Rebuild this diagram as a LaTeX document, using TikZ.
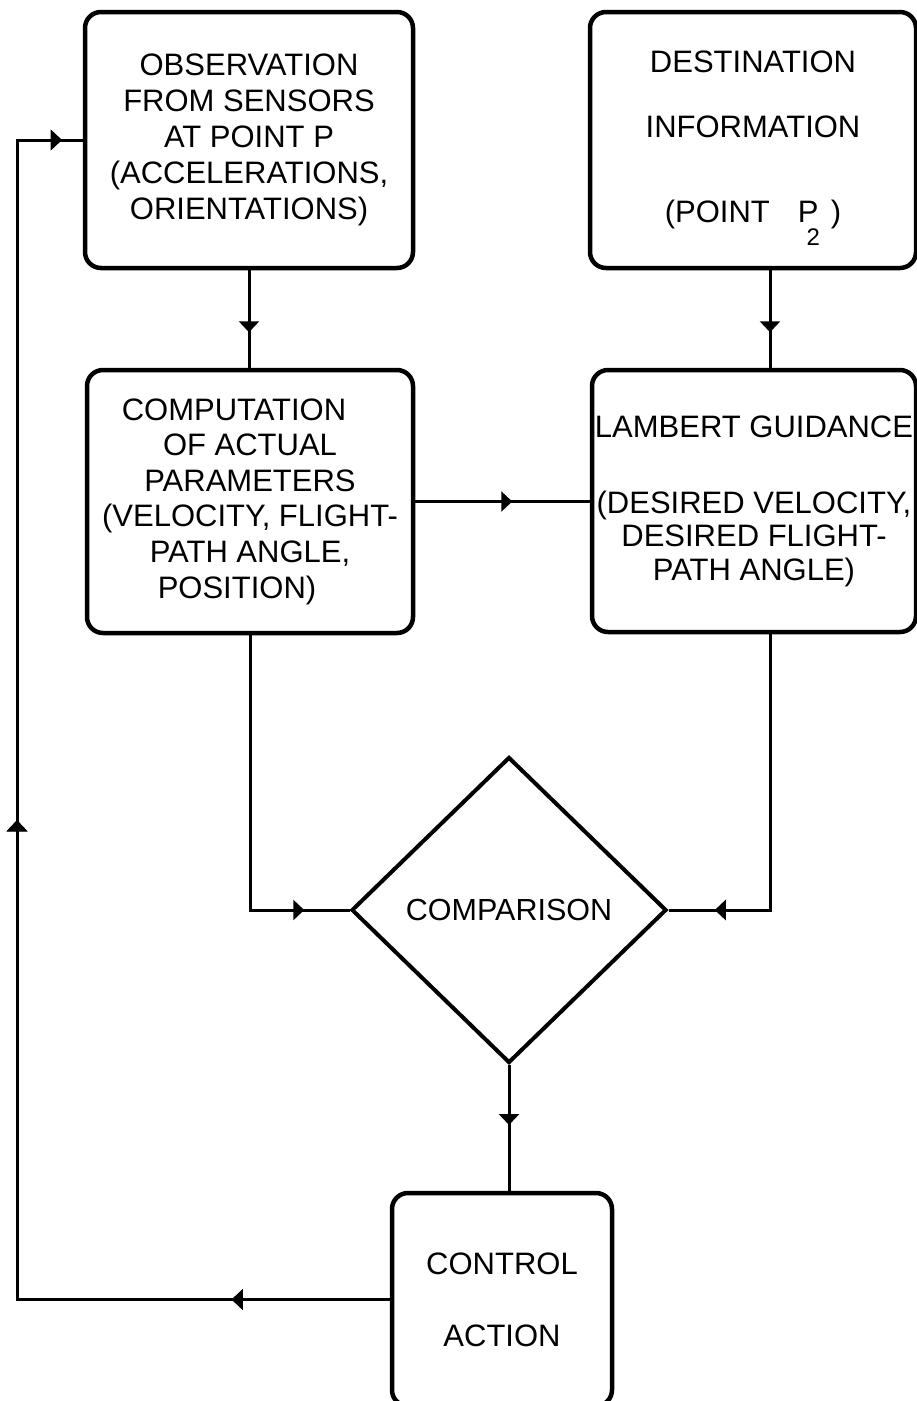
\documentclass[tikz,border=0pt]{standalone}
\usepackage{fontspec}
\setmainfont{Liberation Sans}
\usetikzlibrary{arrows.meta,shapes.geometric,decorations.markings,calc}
\begin{document}
\begin{tikzpicture}[x=1pt,y=-1pt,
  box/.style={draw, line width=4.5pt, rounded corners=16pt, inner sep=2pt, align=center,
    font=\fontsize{31}{35.5}\selectfont},
  conn/.style={line width=3pt},
  tipat/.style={postaction={decorate},decoration={markings,
    mark=at position #1 with {\arrow{Triangle[width=20pt,length=11pt]}}}},
]
\useasboundingbox (0,0) rectangle (917,1401);

\node[box, minimum width=328pt, minimum height=256pt, font=\fontsize{31}{36}\selectfont] (obs) at (249,140)
  {OBSERVATION\\FROM SENSORS\\AT POINT P\\(ACCELERATIONS,\\ORIENTATIONS)};
\node[box, minimum width=326pt, minimum height=256pt] (dest) at (753,140)
  {DESTINATION\\[29.5pt]INFORMATION\\[49.5pt](POINT\hspace{28pt}P\hspace{-12pt}\smash{\raisebox{-23pt}{\fontsize{24}{24}\selectfont 2}}\hspace{11pt})};
\node[box, minimum width=326pt, minimum height=263pt, font=\fontsize{31}{35.6}\selectfont] (comp) at (250,501.5)
  {COMPUTATION\hspace*{32pt}\\OF ACTUAL\hspace*{38pt}\\PARAMETERS\hspace*{26pt}\\(VELOCITY, FLIGHT-\\PATH ANGLE,\hspace*{20pt}\\POSITION)\hspace*{26pt}};
\node[box, minimum width=324pt, minimum height=262pt, font=\fontsize{31}{33.5}\selectfont] (lamb) at (754,501)
  {LAMBERT GUIDANCE\\[42.5pt](DESIRED VELOCITY,\\DESIRED FLIGHT-\\PATH ANGLE)};
\node[draw, diamond, line width=4pt, minimum width=315pt, minimum height=306pt, inner sep=0pt,
  font=\fontsize{30.5}{35}\selectfont] (cmp) at (509,910) {COMPARISON};
\node[box, minimum width=220pt, minimum height=213pt] (ctrl) at (502,1299.5)
  {CONTROL\\[36.5pt]ACTION};

\path (dest.south) ++(17,0) coordinate (d1);
\path (lamb.south) ++(16,0) coordinate (l1);
\coordinate (fb) at (17,140);

\draw[conn, tipat=62pt] (obs.south) -- (obs.south |- comp.north);
\draw[conn, tipat=62pt] (d1) -- (d1 |- lamb.north);
\draw[conn, tipat=97pt] (comp.east) -- (comp.east -| lamb.west);
\draw[conn, tipat=329pt] (comp.south) |- (cmp.west);
\draw[conn, tipat=331pt] (l1) |- (cmp.east);
\draw[conn, tipat=60pt] (cmp.south) -- (cmp.south |- ctrl.north);
\draw[conn, tipat=158pt, tipat=852pt, tipat=1577pt] (ctrl.west) -| (fb) -- (obs.west);
\end{tikzpicture}
\end{document}
